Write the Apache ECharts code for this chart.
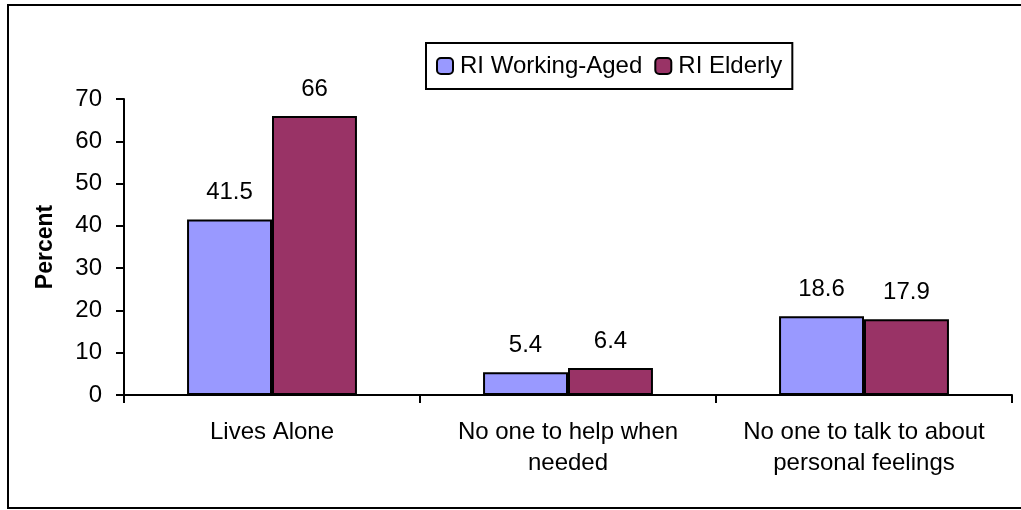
<!DOCTYPE html>
<html>
<head>
<meta charset="utf-8">
<script src="https://cdn.jsdelivr.net/npm/echarts@6/dist/echarts.min.js"></script>
<style>html,body{margin:0;padding:0;background:#fff}#c{width:1021px;height:510px}</style>
</head>
<body>
<div id="c"></div>
<script>
const categories = ['Lives Alone', 'No one to help when\nneeded', 'No one to talk to about\npersonal feelings'];
const workingAged = [41.5, 5.4, 18.6];
const elderly = [66, 6.4, 17.9];
const seriesNames = ['RI Working-Aged', 'RI Elderly'];
const yTicks = { min: 0, max: 70, interval: 10 };

const FONT = 'Liberation Sans, Arial, sans-serif';
const chart = echarts.init(document.getElementById('c'), null, { renderer: 'canvas' });
const labelStyle = { show: true, position: 'top', distance: 15, color: '#000', fontFamily: FONT, fontSize: 24 };
chart.setOption({
  animation: false,
  backgroundColor: '#fff',
  graphic: [{
    type: 'rect', shape: { x: 8, y: 5, width: 1040, height: 503 },
    style: { fill: 'none', stroke: '#000', lineWidth: 2 }, z: 100
  }],
  legend: {
    left: 426, top: 43,
    padding: [11, 10, 11, 10],
    borderColor: '#000', borderWidth: 2,
    itemWidth: 16, itemHeight: 16, itemGap: 12,
    textStyle: { color: '#000', fontFamily: FONT, fontSize: 24, padding: [0, 0, 0, 2] },
    data: seriesNames
  },
  grid: { left: 124, right: 9, top: 99, bottom: 115, containLabel: false },
  xAxis: {
    type: 'category', data: categories,
    axisLine: { lineStyle: { color: '#000', width: 2 } },
    axisTick: { show: true, length: 8, lineStyle: { color: '#000', width: 2 } },
    axisLabel: { color: '#000', fontFamily: FONT, fontSize: 24, margin: 22, lineHeight: 31, interval: 0 }
  },
  yAxis: {
    type: 'value', min: yTicks.min, max: yTicks.max, interval: yTicks.interval,
    name: 'Percent', nameLocation: 'middle', nameGap: 67, nameRotate: 90,
    nameTextStyle: { color: '#000', fontFamily: FONT, fontSize: 23, fontWeight: 'bold' },
    splitLine: { show: false },
    axisLine: { show: true, lineStyle: { color: '#000', width: 2 } },
    axisTick: { show: true, length: 8, lineStyle: { color: '#000', width: 2 } },
    axisLabel: { color: '#000', fontFamily: FONT, fontSize: 24, margin: 22 }
  },
  series: [
    {
      name: seriesNames[0], type: 'bar', data: workingAged,
      barGap: '0%', barCategoryGap: '42.6%',
      itemStyle: { color: '#9999FF', borderColor: '#000', borderWidth: 2 },
      label: labelStyle
    },
    {
      name: seriesNames[1], type: 'bar', data: elderly,
      itemStyle: { color: '#993366', borderColor: '#000', borderWidth: 2 },
      label: labelStyle
    }
  ]
});
</script>
</body>
</html>
